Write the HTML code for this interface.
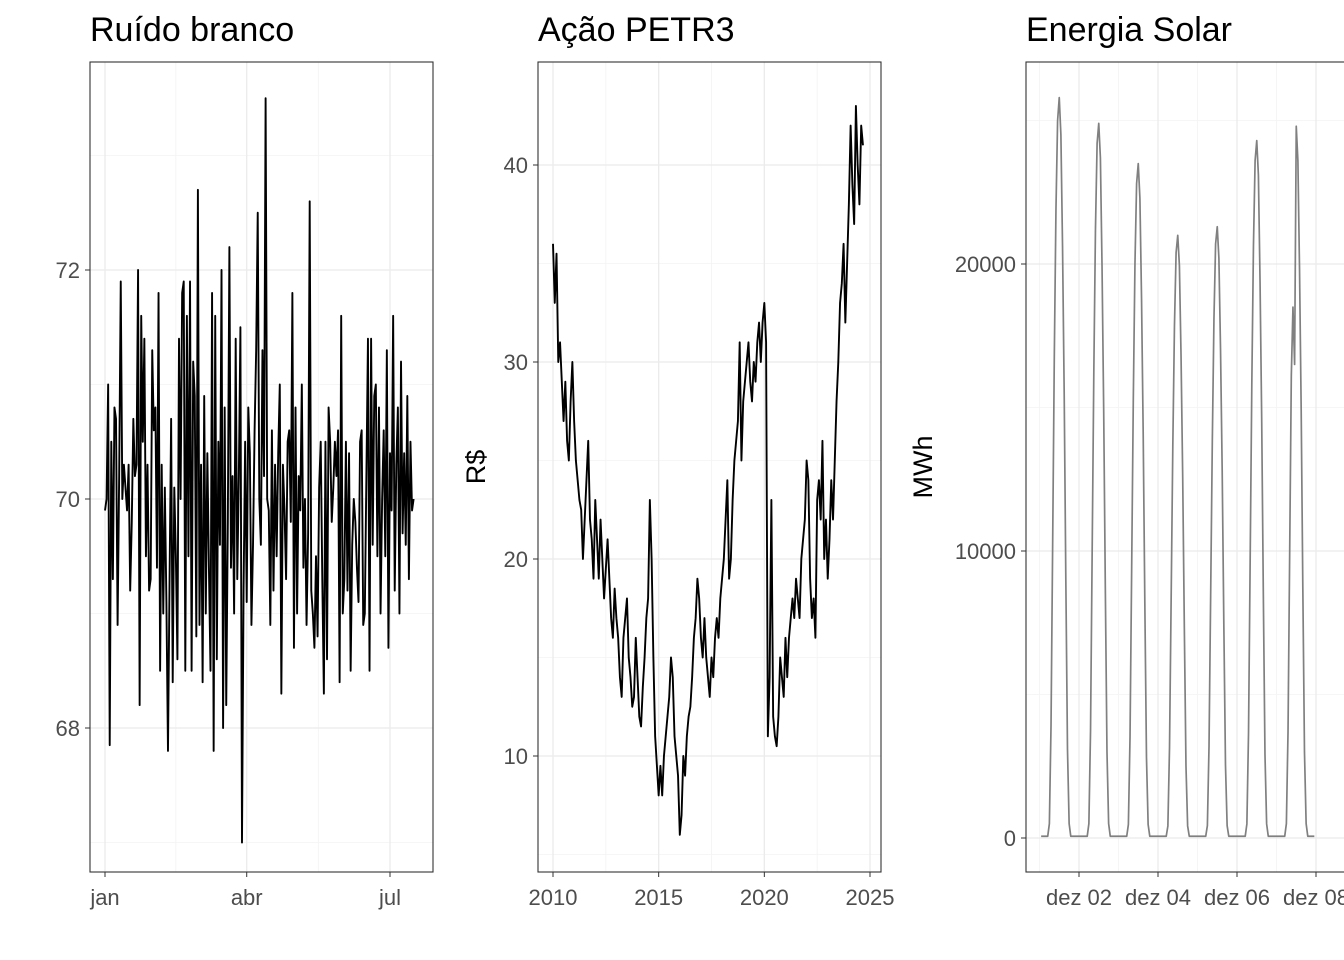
<!DOCTYPE html>
<html><head><meta charset="utf-8">
<style>
html,body{margin:0;padding:0;background:#fff;}
svg{display:block;font-family:"Liberation Sans",sans-serif;}
</style></head>
<body>
<svg id="chart" width="1344" height="960" viewBox="0 0 1344 960" xmlns="http://www.w3.org/2000/svg">
<rect x="0" y="0" width="1344" height="960" fill="#fff"/>
<g id="p1"></g>
<g id="p2"></g>
<g id="p3"></g>
</svg>
<script>
// Panel 1: daily white noise (day index from Jan 1)
const noiseValues = [69.9,70.0,71.0,67.85,70.5,69.3,70.8,70.7,68.9,70.2,71.9,70.0,70.3,70.1,69.9,70.3,69.2,69.8,70.7,70.2,
70.3,72.0,68.2,71.6,70.5,71.4,69.5,70.3,69.2,69.3,71.3,70.6,70.8,69.4,71.8,68.5,70.3,69.0,70.1,69.1,
67.8,69.3,70.7,68.4,70.1,69.5,68.6,71.4,70.0,71.8,71.9,68.5,71.6,69.5,71.9,68.5,71.2,70.9,68.8,72.7,
68.9,70.3,68.4,70.9,69.0,70.4,69.4,68.5,71.8,67.8,71.6,68.6,70.5,69.6,72.0,68.0,70.8,68.2,69.8,72.2,
69.4,70.2,69.0,71.4,69.3,70.2,71.5,67.0,69.2,70.5,69.1,70.8,70.4,68.9,69.6,70.6,71.3,72.5,70.0,69.6,
71.3,70.2,73.5,70.0,69.9,68.9,70.6,69.2,70.3,69.5,70.4,71.0,68.3,70.3,69.9,69.3,70.5,70.6,69.8,71.8,
68.7,70.8,69.0,70.2,69.9,71.0,69.4,70.0,68.9,69.7,72.6,69.2,69.0,68.7,69.5,68.8,70.1,70.5,69.3,68.3,
70.5,68.6,70.8,70.5,69.8,70.1,70.5,70.2,70.6,68.4,71.6,69.0,69.3,70.5,69.2,70.4,68.5,69.6,70.0,69.8,
69.4,69.1,70.5,70.6,68.9,69.0,70.2,71.4,68.5,71.4,69.6,70.9,71.0,69.5,70.8,69.0,70.0,
70.6,69.5,71.3,68.7,70.4,69.9,71.6,69.2,70.3,70.8,69.0,71.2,69.7,70.4,69.6,70.9,69.3,70.5,69.9,70.0];
const noiseXTicks = ["jan","abr","jul"];
const noiseXTickDays = [0,90,181];
const noiseYTicks = [68,70,72];

// Panel 2: PETR3 monthly prices from Jan 2010
const petrValues = [36,33,35.5,30,31,29,27,29,26,25,28,30,
27,25,24,23,22.5,20,22,24,26,22,21,19,
23,21,19,22,20,18,19.5,21,19,17,16,18.5,
17,16,14,13,16,17,18,15,14,12.5,13,16,
14,12,11.5,13.5,15,17,18,23,20,15,11,9.5,
8,9.5,8,10,11,12,13,15,14,11,10,9,
6,7,10,9,11,12,12.5,14,16,17,19,18,
16,15,17,15,14,13,15,14,16,17,16,18,
19,20,22,24,19,20,23,25,26,27,31,25,
28,29,30,31,29,28,30,29,31,32,30,32,
33,31,11,14,23,12,11,10.5,12,15,14,13,
16,14,16,17,18,17,19,18,17,20,21,22,
25,24,19,17,18,16,23,24,22,26,20,22,
19,21,24,22,25,28,30,33,34,36,32,35,
38,42,39,37,43,40,38,42,41];
const petrStartYear = 2010;
const petrXTicks = [2010,2015,2020,2025];
const petrYTicks = [10,20,30,40];

// Panel 3: hourly solar energy from Dec 1 01:00
const solarValues = [
0,0,0,0,0,500,3900,10300,16800,21900,25000,25800,24500,20600,15500,9000,3100,500,0,0,0,0,0,
0,0,0,0,0,0,500,3700,10000,16200,21200,24200,24900,23700,19900,14900,8700,3000,500,0,0,0,0,0,
0,0,0,0,0,0,470,3500,9400,15300,20000,22800,23500,22300,18800,14100,8200,2800,470,0,0,0,0,0,
0,0,0,0,0,0,420,3150,8400,13650,17850,20400,21000,19950,16800,12600,7350,2500,420,0,0,0,0,0,
0,0,0,0,0,0,430,3200,8500,13800,18100,20700,21300,20200,17000,12800,7450,2550,430,0,0,0,0,0,
0,0,0,0,0,0,490,3650,9700,15800,20650,23600,24300,23100,19400,14600,8500,2900,490,0,0,0,0,0,
0,0,0,0,0,0,500,3700,9900,16100,18500,16500,24800,23600,19800,14900,8700,3000,500,0,0,0,0,0];
const solarXTicks = ["dez 02","dez 04","dez 06","dez 08"];
const solarXTickHours = [24,72,120,168];
const solarYTicks = [0,10000,20000];

const NS="http://www.w3.org/2000/svg";
function mk(parent,tag,attrs,text){const e=document.createElementNS(NS,tag);for(const k in attrs)e.setAttribute(k,attrs[k]);if(text!==undefined)e.textContent=text;parent.appendChild(e);return e;}

function panel(g,box,title,xs,ys,xMajor,xMinor,yMajor,yMinor,xLabels,yLabels,yTitle,yTitleX,pts,color,sw,nameBase){
  mk(g,'rect',{x:box.x0,y:box.y0,width:box.x1-box.x0,height:box.y1-box.y0,fill:'#fff'});
  xMinor.forEach(v=>{const l=mk(g,'line',{x1:xs(v),x2:xs(v),y1:box.y0,y2:box.y1,stroke:'#f3f3f3','stroke-width':0.8});});
  yMinor.forEach(v=>{const l=mk(g,'line',{x1:box.x0,x2:box.x1,y1:ys(v),y2:ys(v),stroke:'#f3f3f3','stroke-width':0.8});});
  xMajor.forEach((v,i)=>{const l=mk(g,'line',{x1:xs(v),x2:xs(v),y1:box.y0,y2:box.y1,stroke:'#ebebeb','stroke-width':1.3});
    mk(g,'line',{x1:xs(v),x2:xs(v),y1:box.y1,y2:box.y1+5,stroke:'#333','stroke-width':1});
    const t=mk(g,'text',{x:xs(v),y:box.y1+33,'text-anchor':'middle','font-size':22,fill:'#4d4d4d'},xLabels[i]);});
  yMajor.forEach((v,i)=>{const l=mk(g,'line',{x1:box.x0,x2:box.x1,y1:ys(v),y2:ys(v),stroke:'#ebebeb','stroke-width':1.3});
    mk(g,'line',{x1:box.x0-5,x2:box.x0,y1:ys(v),y2:ys(v),stroke:'#333','stroke-width':1});
    const t=mk(g,'text',{x:box.x0-10,y:ys(v)+8,'text-anchor':'end','font-size':22,fill:'#4d4d4d'},yLabels[i]);});
  const d=pts.map((p,i)=>(i?'L':'M')+xs(p[0]).toFixed(2)+' '+ys(p[1]).toFixed(2)).join(' ');
  const path=mk(g,'path',{d:d,fill:'none',stroke:color,'stroke-width':sw,'stroke-linejoin':'round'});
  
  
  const fr=mk(g,'rect',{x:box.x0,y:box.y0,width:box.x1-box.x0,height:box.y1-box.y0,fill:'none',stroke:'#333','stroke-width':1.1});
  
  
  const tt=mk(g,'text',{x:box.x0,y:41,'font-size':34,fill:'#000'},title);
  
  
  if(yTitle){const yt=mk(g,'text',{x:0,y:0,'font-size':27,fill:'#000','text-anchor':'middle',transform:`translate(${yTitleX},${(box.y0+box.y1)/2}) rotate(-90)`},yTitle);
    
    }
}

// Panel 1
(function(){
  const box={x0:90,x1:433,y0:62,y1:872};
  const xs=d=>105+d*(390-105)/181;
  const ys=v=>499-(v-70)*114.5;
  const pts=noiseValues.map((v,i)=>[i,v]);
  panel(document.getElementById('p1'),box,'Ruído branco',xs,ys,noiseXTickDays,[45,135.5],noiseYTicks,[67,69,71,73],noiseXTicks,noiseYTicks.map(String),null,0,pts,'#000',1.9,'noise');
})();
// Panel 2
(function(){
  const box={x0:538,x1:881,y0:62,y1:872};
  const xs=y=>553+(y-2010)*(870-553)/15;
  const ys=v=>559-(v-20)*19.7;
  const pts=petrValues.map((v,i)=>[petrStartYear+i/12,v]);
  panel(document.getElementById('p2'),box,'Ação PETR3',xs,ys,petrXTicks,[2012.5,2017.5,2022.5],petrYTicks,[5,15,25,35],petrXTicks.map(String),petrYTicks.map(String),'R$',485,pts,'#000',1.9,'petr3');
})();
// Panel 3
(function(){
  const box={x0:1026,x1:1360,y0:62,y1:872};
  const xs=h=>1039.5+h*(1158-1079)/48;
  const ys=v=>838-v*(838-264)/20000;
  const pts=solarValues.map((v,i)=>[i+1,Math.max(v,60)]);
  panel(document.getElementById('p3'),box,'Energia Solar',xs,ys,solarXTickHours,[0,48,96,144],solarYTicks,[5000,15000,25000],solarXTicks,solarYTicks.map(String),'MWh',932,pts,'#808080',1.7,'solar');
})();
</script>
</body></html>
